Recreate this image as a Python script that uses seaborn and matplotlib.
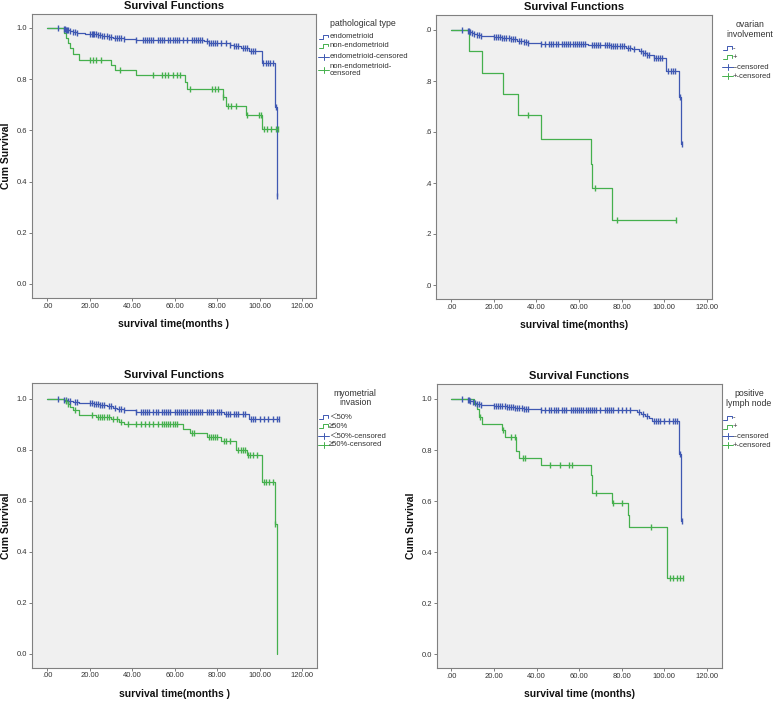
import numpy as np
import matplotlib
matplotlib.use("Agg")
import matplotlib.pyplot as plt
from matplotlib.lines import Line2D
import seaborn as sns

W, H = 778, 702
BLUE = "#3f58b2"
GREEN = "#45b04d"
TXT = "#333333"

title_text = "Survival Functions"
x_ticks = [0, 20, 40, 60, 80, 100, 120]
x_tick_labels = [".00", "20.00", "40.00", "60.00", "80.00", "100.00", "120.00"]
y_ticks = [0.0, 0.2, 0.4, 0.6, 0.8, 1.0]
y_tick_labels = ["0.0", "0.2", "0.4", "0.6", "0.8", "1.0"]
y_tick_labels_cut = [".0", ".2", ".4", ".6", ".8", ".0"]

# ---------------- Panel 1: pathological type ----------------
p1_blue_events = [8, 9, 10, 11, 12, 14, 18, 21, 24, 26, 29, 31, 34, 36, 42, 74, 76,
                  86, 88, 91, 95, 101, 107, 108]
p1_blue_surv = [0.997, 0.994, 0.991, 0.988, 0.985, 0.982, 0.978, 0.975, 0.972, 0.969,
                0.966, 0.962, 0.959, 0.956, 0.952, 0.948, 0.941, 0.935, 0.928, 0.921,
                0.910, 0.864, 0.690, 0.345]
p1_blue_cens = [5, 8, 8.5, 9, 9.5, 10, 11, 12, 13, 14, 20, 21, 21.5, 22, 23, 24, 25, 26,
                27, 28, 29, 30, 32, 33, 34, 35, 36, 42, 45, 46, 47, 48, 49, 50, 52, 53,
                54, 55, 57, 58, 59, 60, 61, 62, 64, 66, 68, 69, 70, 71, 72, 73, 75, 76,
                77, 78, 79, 80, 82, 84, 86, 88, 89, 90, 92, 93, 94, 96, 97, 98, 101.5,
                103, 104, 105, 106, 107.5, 108]
p1_green_events = [8, 9, 10, 11, 12, 15, 30, 32, 42, 65, 66, 82.5, 84, 93.5, 101]
p1_green_surv = [0.98, 0.96, 0.94, 0.92, 0.90, 0.876, 0.857, 0.837, 0.817, 0.79, 0.762,
                 0.73, 0.697, 0.659, 0.604]
p1_green_cens = [20, 21.5, 23, 25.5, 34.5, 50, 54, 55.5, 57, 59, 61, 62.5, 67, 77.5, 79,
                 80.5, 82.7, 85, 86.5, 89, 94, 99.5, 100.5, 102, 103.5, 105.5, 107.5, 108.5]
p1_legend_title = "pathological type"
p1_legend_labels = ["endometrioid", "non-endometrioid", "endometrioid-censored",
                    "non-endometrioid-\ncensored"]
p1_xlabel = "survival time(months )"

# ---------------- Panel 2: ovarian involvement ----------------
p2_blue_events = [8, 9, 10, 11, 12, 14, 20, 24, 28, 31, 34, 36, 42, 64, 75, 82, 85, 88,
                  90, 92, 95, 101, 107, 108]
p2_blue_surv = [0.997, 0.993, 0.99, 0.986, 0.982, 0.978, 0.972, 0.968, 0.963, 0.958,
                0.953, 0.948, 0.945, 0.941, 0.938, 0.93, 0.925, 0.918, 0.91, 0.903,
                0.892, 0.84, 0.736, 0.552]
p2_blue_cens = [5, 8, 8.5, 9, 10, 11, 12, 13, 14, 20, 21, 22, 23, 24, 25, 26, 27, 28, 29,
                30, 32, 33, 34, 35, 36, 42, 44, 46, 47, 48, 49, 50, 52, 53, 54, 55, 56,
                57, 58, 59, 60, 61, 62, 63, 66, 67, 68, 69, 70, 72, 73, 74, 75, 76, 77,
                78, 79, 80, 81, 83, 84, 86, 89, 90, 91, 92, 93, 95, 96, 97, 98, 99,
                101.5, 103, 104, 105, 107.5, 108.5]
p2_green_events = [8.5, 14.5, 24.5, 31.5, 42, 65.5, 66, 75.5]
p2_green_surv = [0.917, 0.833, 0.75, 0.667, 0.571, 0.476, 0.381, 0.254]
p2_green_cens = [36, 67.5, 78, 105.3]
p2_legend_title = "ovarian\ninvolvement"
p2_legend_labels = ["-", "+", "--censored", "+-censored"]
p2_xlabel = "survival time(months)"

# ---------------- Panel 3: myometrial invasion ----------------
p3_blue_events = [8, 9, 10, 12, 15, 22, 25, 28, 31, 33, 36, 42, 83, 95]
p3_blue_surv = [0.996, 0.993, 0.99, 0.986, 0.982, 0.978, 0.975, 0.97, 0.965, 0.96,
                0.955, 0.949, 0.94, 0.921]
p3_blue_cens = [5, 8, 9, 10, 11, 13, 14, 20, 21, 22, 23, 24, 25, 26, 27, 29, 30, 32, 34,
                35, 36, 42, 44, 45, 46, 47, 48, 50, 51, 52, 54, 55, 56, 57, 58, 60, 61,
                62, 63, 64, 65, 66, 67, 68, 69, 70, 71, 72, 73, 75, 76, 77, 78, 80, 81,
                82, 84, 85, 86, 88, 89, 90, 92, 93, 96, 97, 98, 100, 102, 104, 106, 108,
                109]
p3_green_events = [8, 10, 11, 12, 15, 23, 30, 34, 36, 64, 67, 75, 82, 89, 93.8, 101,
                   107, 108]
p3_green_surv = [0.99, 0.98, 0.967, 0.957, 0.936, 0.928, 0.92, 0.91, 0.90, 0.882, 0.865,
                 0.851, 0.835, 0.80, 0.778, 0.673, 0.508, 0.0]
p3_green_cens = [9, 10, 13, 21, 24, 25, 26, 27, 28, 29, 31, 33, 35, 38, 42, 44, 46, 48,
                 50, 52, 54, 55, 56, 57, 58, 59, 60, 61, 68, 69, 76, 77, 78, 79, 80, 83,
                 84, 86, 90, 91, 92, 93, 94.5, 95.5, 97, 98.5, 102, 103, 104.5, 106, 107.4]
p3_legend_title = "myometrial\ninvasion"
p3_legend_labels = ["\uff1c50%", "\u226550%", "\uff1c50%-censored", "\u226550%-censored"]
p3_xlabel = "survival time(months )"

# ---------------- Panel 4: positive lymph node ----------------
p4_blue_events = [8, 9, 10, 11, 12, 14, 20, 26, 30, 34, 36, 42, 87, 89, 91, 93, 94,
                  107, 108]
p4_blue_surv = [0.997, 0.994, 0.99, 0.986, 0.982, 0.978, 0.972, 0.969, 0.966, 0.962,
                0.959, 0.956, 0.948, 0.94, 0.932, 0.924, 0.915, 0.786, 0.523]
p4_blue_cens = [5, 8, 8.5, 9, 10, 11, 12, 13, 14, 20, 21, 22, 23, 24, 25, 26, 27, 28,
                29, 30, 31, 32, 33, 34, 35, 36, 42, 44, 46, 47, 48, 49, 50, 52, 53, 54,
                56, 57, 58, 59, 60, 61, 62, 63, 64, 65, 66, 67, 68, 70, 72, 73, 74, 75,
                76, 78, 80, 82, 84, 88, 90, 92, 95, 96, 97, 98, 100, 102, 104, 105, 106,
                107.5, 108.3]
p4_green_events = [10.5, 12, 13, 14.5, 24, 25, 30.5, 32, 42, 65.5, 66.2, 75.5, 82.7,
                   83.3, 101]
p4_green_surv = [0.98, 0.96, 0.93, 0.904, 0.879, 0.853, 0.797, 0.77, 0.74, 0.702, 0.63,
                 0.591, 0.546, 0.5, 0.3]
p4_green_cens = [13.6, 24.2, 28.2, 29.9, 33.5, 34.7, 46.3, 51, 55.4, 56.6, 67.8, 76, 80,
                 93.6, 102.7, 104.2, 105.8, 107.4, 108.6]
p4_legend_title = "positive\nlymph node"
p4_legend_labels = ["-", "+", "--censored", "+-censored"]
p4_xlabel = "survival time (months)"

ylabel_text = "Cum Survival"

sns.set_theme(style="ticks")
plt.rcParams['font.family'] = ['Liberation Sans', 'Noto Sans CJK SC', 'DejaVu Sans']

fig = plt.figure(figsize=(W / 100, H / 100), dpi=100)


def fx(x):
    return x / W


def fy(y):
    return 1 - y / H


def make_axes(left, top, right, bottom, x0px, x120px, y1px, y0px):
    ax = fig.add_axes([fx(left), fy(bottom), (right - left) / W, (bottom - top) / H])
    xs = (x120px - x0px) / 120.0
    ys = (y0px - y1px) / 1.0
    ax.set_xlim((left - x0px) / xs, (right - x0px) / xs)
    ax.set_ylim((y0px - bottom) / ys, (y0px - top) / ys)
    ax.set_facecolor("#f0f0f0")
    for sp in ax.spines.values():
        sp.set_color("#808080")
        sp.set_linewidth(0.8)
    ax.tick_params(direction="out", length=2.2, width=0.6, color="#666666",
                   labelsize=5.5, labelcolor=TXT, pad=1.2)
    return ax


def draw_curve(ax, events, surv, cens, color):
    t = np.asarray(events, float)
    s = np.asarray(surv, float)
    c = np.asarray(cens, float)
    tend = max(t.max(), c.max())
    xs = np.concatenate([[0.0], t, [tend]])
    ys = np.concatenate([[1.0], s, [s[-1]]])
    sns.lineplot(x=xs, y=ys, ax=ax, drawstyle="steps-post", estimator=None, sort=False,
                 color=color, linewidth=0.9)
    idx = np.searchsorted(t, c, side="right")
    cy = np.where(idx == 0, 1.0, s[np.maximum(idx - 1, 0)])
    sns.scatterplot(x=c, y=cy, ax=ax, marker="|", s=18, color=color, linewidth=1.0,
                    zorder=3)


def finish_axes(ax, xlabel, ytl, ylabel, axh, axw):
    ax.set_xticks(x_ticks)
    ax.set_xticklabels(x_tick_labels)
    ax.set_yticks(y_ticks)
    ax.set_yticklabels(ytl)
    ax.set_title(title_text, fontsize=8, fontweight="bold", pad=3.6, color="#111111")
    ax.set_xlabel(xlabel, fontsize=7.5, fontweight="bold", color="#111111")
    ax.xaxis.set_label_coords(0.5, -26.0 / axh)
    ax.xaxis.label.set_va("center")
    if ylabel:
        ax.set_ylabel(ylabel, fontsize=7.5, fontweight="bold", color="#111111")
        ax.yaxis.set_label_coords(-26.0 / axw, 0.5)
        ax.yaxis.label.set_va("center")
    else:
        ax.set_ylabel("")


def step_icon(x0, y, color):
    xs = [x0, x0 + 4, x0 + 4, x0 + 9, x0 + 9]
    ys = [y + 1.8, y + 1.8, y - 2.2, y - 2.2, y + 0.3]
    fig.add_artist(Line2D([fx(v) for v in xs], [fy(v) for v in ys], color=color,
                          linewidth=0.7, transform=fig.transFigure))


def cens_icon(x0, y, color):
    fig.add_artist(Line2D([fx(x0 - 1), fx(x0 + 10)], [fy(y), fy(y)], color=color,
                          linewidth=0.7, transform=fig.transFigure))
    fig.add_artist(Line2D([fx(x0 + 4.5), fx(x0 + 4.5)], [fy(y - 3), fy(y + 3)],
                          color=color, linewidth=0.7, transform=fig.transFigure))


def legend(title, title_x, title_y, title_ha, labels, ys, icon_x, text_x):
    fig.text(fx(title_x), fy(title_y), title, ha=title_ha, va="center", fontsize=6.3,
             color=TXT, linespacing=1.05)
    colors = [BLUE, GREEN, BLUE, GREEN]
    for i, (lab, yy) in enumerate(zip(labels, ys)):
        if i < 2:
            step_icon(icon_x, yy, colors[i])
        else:
            cens_icon(icon_x, yy, colors[i])
        fig.text(fx(text_x), fy(yy), lab, ha="left", va="center", fontsize=5.5,
                 color=TXT, linespacing=1.0)


# Panel 1
ax1 = make_axes(32, 14, 316, 298, 47, 302.3, 28, 284)
draw_curve(ax1, p1_blue_events, p1_blue_surv, p1_blue_cens, BLUE)
draw_curve(ax1, p1_green_events, p1_green_surv, p1_green_cens, GREEN)
finish_axes(ax1, p1_xlabel, y_tick_labels, ylabel_text, 284, 284)
legend(p1_legend_title, 330, 24, "left", p1_legend_labels,
       [36.7, 45.7, 56.5, 70], 319, 330)

# Panel 2
ax2 = make_axes(436, 15, 712, 299, 451, 707, 30, 285)
draw_curve(ax2, p2_blue_events, p2_blue_surv, p2_blue_cens, BLUE)
draw_curve(ax2, p2_green_events, p2_green_surv, p2_green_cens, GREEN)
finish_axes(ax2, p2_xlabel, y_tick_labels_cut, None, 284, 276)
legend(p2_legend_title, 750, 29.5, "center", p2_legend_labels,
       [48.3, 57.3, 67.3, 76], 723, 733)

# Panel 3
ax3 = make_axes(32, 383.3, 317, 667.7, 47, 302.3, 398.7, 653.7)
draw_curve(ax3, p3_blue_events, p3_blue_surv, p3_blue_cens, BLUE)
draw_curve(ax3, p3_green_events, p3_green_surv, p3_green_cens, GREEN)
finish_axes(ax3, p3_xlabel, y_tick_labels, ylabel_text, 284.4, 285)
legend(p3_legend_title, 355, 398.3, "center", p3_legend_labels,
       [417.3, 426.3, 436, 445], 319, 329)

# Panel 4
ax4 = make_axes(437, 383.7, 722, 668.3, 451.3, 707, 399, 654.3)
draw_curve(ax4, p4_blue_events, p4_blue_surv, p4_blue_cens, BLUE)
draw_curve(ax4, p4_green_events, p4_green_surv, p4_green_cens, GREEN)
finish_axes(ax4, p4_xlabel, y_tick_labels, ylabel_text, 284.6, 285)
legend(p4_legend_title, 749, 398.5, "center", p4_legend_labels,
       [417.7, 426.7, 436.3, 445.3], 723, 733)

fig.savefig("out.png", dpi=100, facecolor="white")
